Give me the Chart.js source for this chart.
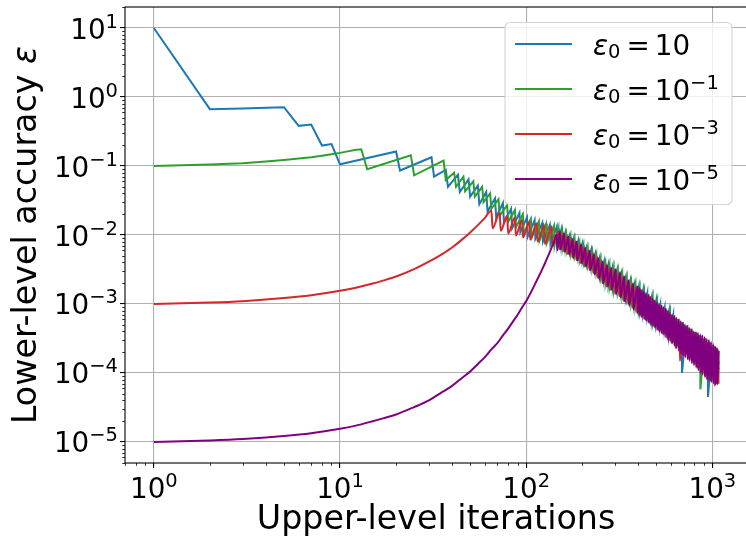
<!DOCTYPE html>
<html>
<head>
<meta charset="utf-8">
<script src="https://cdn.jsdelivr.net/npm/chart.js@4.4.0/dist/chart.umd.min.js"></script>
<style>
  html, body { margin: 0; padding: 0; background: #fff; overflow: hidden; }
  #wrap { width: 752px; height: 537px; }
</style>
</head>
<body>
<div id="wrap"><canvas id="accChart" width="752" height="537"></canvas></div>
<script>
// tick values and labels (10 to the power of the exponent)
const xTickValues = [1, 10, 100, 1000];
const xTickExponents = ['0', '1', '2', '3'];
const yTickValues = [1e-5, 1e-4, 1e-3, 1e-2, 1e-1, 1, 10];
const yTickExponents = ['−5', '−4', '−3', '−2', '−1', '0', '1'];

// series (iteration, accuracy)
const seriesNames = ['ε₀ = 10', 'ε₀ = 10⁻¹', 'ε₀ = 10⁻³', 'ε₀ = 10⁻⁵'];
const legendExponents = ['', '−1', '−3', '−5'];
const seriesColors = ['#1f77b4', '#2ca02c', '#d62728', '#800080'];

const eps10 = [[1,10],[2,0.667],[3,0.68],[4,0.70],[5,0.713],[6,0.382],[7,0.40],[8,0.198],[9,0.208],[10,0.106],
  [20,0.162],[21,0.086],[31,0.134],[32,0.070],[37,0.088],[38,0.050],[43,0.075],[44,0.042],[49,0.064],[50,0.036],
  [55,0.052],[56,0.028],[61,0.042],[62,0.022],[68,0.034],[69,0.018],[75,0.029],[76,0.015],[83,0.024],[84,0.0125],
  [92,0.021],[93,0.011],[101,0.018],[102,0.0095],[111,0.0165],[112,0.0088],[122,0.0150],[123,0.0080],[134,0.0140],[135,0.0074],
  [146,0.0132],[147,0.0068],[154,0.0116],[155,0.0068],[162,0.0106],[163,0.0063],[171,0.0097],[172,0.0057],[180,0.0089],[181,0.0052],
  [190,0.0081],[191,0.0047],[200,0.0074],[201,0.0042],[211,0.0066],[212,0.0038],[223,0.0060],[224,0.0034],[235,0.0053],[236,0.0030],
  [248,0.0047],[249,0.0025],[262,0.0041],[263,0.0022],[276,0.0037],[277,0.0019],[291,0.0034],[292,0.0017],[307,0.0030],[308,0.0016],
  [324,0.0027],[325,0.0014],[342,0.0024],[343,0.0012],[361,0.0021],[362,0.0011],[381,0.0019],[382,0.00095],[402,0.00175],[403,0.00082],
  [424,0.00155],[425,0.00072],[447,0.0014],[448,0.00065],[472,0.00124],[473,0.00057],[498,0.00109],[499,0.00051],[525,0.00097],[526,0.00046],
  [554,0.00087],[555,0.00041],[584,0.00077],[585,0.00034],[616,0.00068],[617,0.00029],[650,0.00060],[651,0.00025],[686,0.00054],[687,0.00010],
  [724,0.00048],[725,0.00019],[764,0.00043],[765,0.00017],[806,0.00039],[807,0.00014],[850,0.00035],[851,0.00012],[897,0.00031],[898,0.00011],
  [946,0.00028],[947,0.000045],[998,0.00025],[999,0.000080],[1053,0.00022],[1054,0.000075],[1080,0.00012]];

const eps1e1 = [[1,0.1],[2,0.105],[3,0.110],[4,0.116],[5,0.122],[6,0.128],[7,0.134],[8,0.141],[9,0.148],[10,0.155],
  [11,0.163],[12,0.171],[13,0.175],[14,0.0897],[24,0.1435],[25,0.0734],[36,0.1197],[37,0.0628],[41,0.080],[42,0.050],
  [46,0.070],[47,0.043],[52,0.060],[53,0.036],[58,0.050],[59,0.030],[64,0.040],[65,0.024],[71,0.033],[72,0.019],
  [79,0.027],[80,0.0155],[87,0.023],[88,0.013],[96,0.020],[97,0.0105],[106,0.0172],[107,0.0092],[117,0.0158],[118,0.0083],
  [128,0.0145],[129,0.0076],[141,0.0136],[142,0.0070],[149,0.0124],[150,0.0067],[156,0.0113],[157,0.0064],[164,0.0103],[165,0.0059],
  [173,0.0094],[174,0.0054],[182,0.0086],[183,0.0049],[193,0.0078],[194,0.0044],[203,0.0071],[204,0.0040],[214,0.0064],[215,0.0036],
  [226,0.0058],[227,0.0032],[238,0.0051],[239,0.0028],[251,0.0045],[252,0.0024],[266,0.0040],[267,0.0020],[280,0.0036],[281,0.0018],
  [295,0.0033],[296,0.0016],[311,0.0030],[312,0.0015],[328,0.0027],[329,0.0013],[347,0.0024],[348,0.0012],[366,0.0021],[367,0.00102],
  [386,0.0019],[387,0.00090],[407,0.0017],[408,0.00078],[430,0.00152],[431,0.00068],[453,0.00138],[454,0.00060],[478,0.00122],[479,0.00054],
  [505,0.00108],[506,0.00048],[532,0.00096],[533,0.00043],[561,0.00087],[562,0.00038],[592,0.00076],[593,0.00032],[624,0.00068],[625,0.00027],
  [659,0.00061],[660,0.00023],[695,0.00055],[696,0.00020],[734,0.00049],[735,0.00018],[774,0.00044],[775,0.00016],[817,0.00039],[818,0.00013],
  [861,0.00035],[862,0.000058],[909,0.00032],[910,0.00010],[959,0.00028],[960,0.000085],[1011,0.00025],[1012,0.000076],[1067,0.00022],[1068,0.000072],
  [1080,0.00015]];

const eps1e3 = [[1,1.0e-3],[2,1.05e-3],[3,1.1e-3],[5,1.22e-3],[7,1.34e-3],[10,1.55e-3],[12,1.71e-3],[15,1.98e-3],[17,2.18e-3],[20,2.5e-3],
  [25,3.2e-3],[30,4.1e-3],[35,5.2e-3],[40,6.6e-3],[45,8.5e-3],[50,0.0109],[55,0.0139],[60,0.0177],[65,0.0226],[66,0.0125],
  [72,0.021],[73,0.0115],[79,0.019],[80,0.0105],[87,0.018],[88,0.0098],[95,0.0165],[96,0.0092],[104,0.0155],[105,0.0086],
  [114,0.0148],[115,0.0080],[125,0.0140],[126,0.0074],[137,0.0134],[138,0.0069],[150,0.0114],[151,0.0062],[158,0.0106],[159,0.0058],
  [166,0.0097],[167,0.0053],[176,0.0088],[177,0.0047],[185,0.0081],[186,0.0043],[195,0.0073],[196,0.0039],[205,0.0067],[206,0.0035],
  [217,0.0060],[218,0.0031],[229,0.0054],[230,0.0028],[241,0.0048],[242,0.0024],[255,0.0042],[256,0.0020],[269,0.0037],[270,0.0018],
  [283,0.0034],[284,0.0016],[299,0.0031],[300,0.0014],[315,0.0028],[316,0.0013],[333,0.0025],[334,0.0011],[351,0.0022],[352,0.0010],
  [371,0.0019],[372,0.00088],[391,0.0018],[392,0.00076],[413,0.0016],[414,0.00066],[435,0.00142],[436,0.00059],[459,0.00128],[460,0.00053],
  [485,0.00113],[486,0.00047],[511,0.00099],[512,0.00042],[539,0.00089],[540,0.00037],[569,0.00079],[570,0.00032],[600,0.00070],[601,0.00027],
  [633,0.00062],[634,0.00023],[668,0.00055],[669,0.00015],[705,0.00050],[706,0.00018],[744,0.00044],[745,0.00016],[785,0.00040],[786,0.00014],
  [828,0.00036],[829,0.00012],[873,0.00033],[874,0.000105],[921,0.00030],[922,0.000088],[972,0.00027],[973,0.000078],[1025,0.00024],[1026,0.000066],
  [1078,0.00020],[1079,0.000070]];

const eps1e5 = [[1,1.0e-5],[2,1.05e-5],[3,1.1e-5],[5,1.22e-5],[7,1.34e-5],[10,1.55e-5],[12,1.71e-5],[15,2.0e-5],[17,2.2e-5],[20,2.5e-5],
  [25,3.2e-5],[30,4.0e-5],[35,5.2e-5],[40,6.5e-5],[45,8.4e-5],[50,1.05e-4],[55,1.35e-4],[60,1.7e-4],[65,2.2e-4],[70,2.7e-4],
  [75,3.5e-4],[80,4.4e-4],[85,5.6e-4],[90,7.0e-4],[95,8.9e-4],[100,1.1e-3],[105,1.4e-3],[110,1.8e-3],[115,2.3e-3],[120,2.9e-3],
  [125,3.7e-3],[130,4.7e-3],[135,6.0e-3],[140,7.6e-3],[146,0.0102],[147,0.0060],[152,0.0112],[153,0.0062],[160,0.0104],[161,0.0057],
  [169,0.0095],[170,0.0052],[178,0.0087],[179,0.0047],[187,0.0080],[188,0.0043],[198,0.0072],[199,0.0039],[208,0.0065],[209,0.0035],
  [220,0.0059],[221,0.0031],[232,0.0052],[233,0.0027],[245,0.0046],[246,0.0023],[258,0.0041],[259,0.0020],[273,0.0036],[274,0.0018],
  [287,0.0033],[288,0.0016],[303,0.0032],[304,0.0014],[320,0.0029],[321,0.00124],[337,0.0025],[338,0.0011],[356,0.0022],[357,0.00095],
  [376,0.0020],[377,0.00083],[397,0.0018],[398,0.00072],[407,0.0017],[408,0.00068],[418,0.0016],[419,0.00064],[429,0.00152],[430,0.00060],
  [441,0.00143],[442,0.00057],[453,0.00136],[454,0.00054],[465,0.00127],[466,0.00050],[478,0.00120],[479,0.00048],[491,0.00112],[492,0.00045],
  [504,0.00106],[505,0.00042],[518,0.00100],[519,0.00040],[532,0.00095],[533,0.00038],[547,0.00090],[548,0.00036],[562,0.00085],[563,0.00033],
  [577,0.00080],[578,0.00030],[592,0.00075],[593,0.00029],[608,0.00070],[609,0.00027],[624,0.00067],[625,0.00025],[641,0.00063],[642,0.00023],
  [659,0.00059],[660,0.00021],[677,0.00056],[678,0.00019],[695,0.00053],[696,0.00018],[714,0.00050],[715,0.00017],[734,0.00048],[735,0.00016],
  [754,0.00045],[755,0.00015],[774,0.00042],[775,0.00014],[795,0.00040],[796,0.00013],[817,0.00039],[818,0.00012],[839,0.00038],[840,0.00011],
  [862,0.00036],[863,0.00010],[885,0.00035],[886,0.000095],[909,0.00033],[910,0.000088],[934,0.00031],[935,0.000081],[959,0.00030],[960,0.000078],
  [985,0.00028],[986,0.000074],[1012,0.00026],[1013,0.000071],[1039,0.00024],[1040,0.000068],[1060,0.00023],[1061,0.000068],[1080,0.00021]];

const allSeries = [eps10, eps1e1, eps1e3, eps1e5];
const smoothSeries = [false, false, true, true];

const FONT = '"DejaVu Sans", sans-serif';
const BIG = 27.8, SMALL = 19.5, RAISE = 11;

// "10" with a superscript exponent, like matplotlib mathtext
function drawPow(ctx, exp, x, base, align) {
  ctx.font = BIG + 'px ' + FONT;
  const w1 = ctx.measureText('10').width;
  ctx.font = SMALL + 'px ' + FONT;
  const w2 = exp ? ctx.measureText(exp).width : 0;
  const w = w1 + w2;
  const sx = align === 'right' ? x - w : align === 'center' ? x - w / 2 : x;
  ctx.font = BIG + 'px ' + FONT;
  ctx.fillText('10', sx, base);
  if (exp) {
    ctx.font = SMALL + 'px ' + FONT;
    ctx.fillText(exp, sx + w1, base - RAISE);
  }
}

// spines, minor ticks, tick labels, y title and the legend
const decor = {
  id: 'decor',
  afterDatasetsDraw(chart) {
    const {ctx, chartArea: a, scales: {x, y}} = chart;
    ctx.save();
    ctx.strokeStyle = '#000';
    ctx.lineWidth = 0.8;
    ctx.beginPath();
    for (let d = -1; d <= 3; d++) {
      for (let m = 2; m <= 9; m++) {
        const v = m * Math.pow(10, d);
        if (v < x.min || v > x.max) continue;
        const px = Math.round(x.getPixelForValue(v)) + 0.5;
        ctx.moveTo(px, a.bottom);
        ctx.lineTo(px, a.bottom + 2.8);
      }
    }
    for (let d = -6; d <= 1; d++) {
      for (let m = 2; m <= 9; m++) {
        const v = m * Math.pow(10, d);
        if (v < y.min || v > y.max) continue;
        const py = Math.round(y.getPixelForValue(v)) + 0.5;
        ctx.moveTo(a.left, py);
        ctx.lineTo(a.left - 2.8, py);
      }
    }
    ctx.stroke();

    ctx.lineWidth = 1.1;
    ctx.strokeRect(a.left, a.top, a.right - a.left, a.bottom - a.top);

    // tick labels
    ctx.fillStyle = '#000';
    ctx.textBaseline = 'alphabetic';
    ctx.textAlign = 'left';
    xTickValues.forEach((v, i) => drawPow(ctx, xTickExponents[i], x.getPixelForValue(v), a.bottom + 35, 'center'));
    yTickValues.forEach((v, i) => drawPow(ctx, yTickExponents[i], a.left - 7, y.getPixelForValue(v) + 10.5, 'right'));

    // y axis title with italic epsilon
    const t1 = 'Lower-level accuracy ', t2 = 'ε';
    ctx.font = '33.3px ' + FONT;
    const w1 = ctx.measureText(t1).width;
    ctx.font = 'italic 33.3px ' + FONT;
    const w2 = ctx.measureText(t2).width;
    ctx.translate(36, (a.top + a.bottom) / 2 + (w1 + w2) / 2);
    ctx.rotate(-Math.PI / 2);
    ctx.font = '33.3px ' + FONT;
    ctx.fillText(t1, 0, 0);
    ctx.font = 'italic 33.3px ' + FONT;
    ctx.fillText(t2, w1, 0);
    ctx.setTransform(1, 0, 0, 1, 0, 0);

    // legend
    const bw = 227, bh = 182, r = 5;
    const bx = a.right - 15 - bw, by = a.top + 15.5;
    ctx.beginPath();
    ctx.moveTo(bx + r, by);
    ctx.arcTo(bx + bw, by, bx + bw, by + bh, r);
    ctx.arcTo(bx + bw, by + bh, bx, by + bh, r);
    ctx.arcTo(bx, by + bh, bx, by, r);
    ctx.arcTo(bx, by, bx + bw, by, r);
    ctx.closePath();
    ctx.fillStyle = 'rgba(255,255,255,0.8)';
    ctx.fill();
    ctx.strokeStyle = 'rgba(204,204,204,0.8)';
    ctx.lineWidth = 1.2;
    ctx.stroke();

    seriesNames.forEach((name, i) => {
      const ly = by + 21.5 + i * 45;
      ctx.strokeStyle = seriesColors[i];
      ctx.lineWidth = 2.1;
      ctx.beginPath();
      ctx.moveTo(bx + 10, ly);
      ctx.lineTo(bx + 67, ly);
      ctx.stroke();

      const base = ly + 10.7;
      let tx = bx + 88;
      ctx.fillStyle = '#000';
      ctx.font = 'italic ' + BIG + 'px ' + FONT;
      ctx.fillText('ε', tx, base);
      tx += ctx.measureText('ε').width;
      ctx.font = SMALL + 'px ' + FONT;
      ctx.fillText('0', tx, base + 3.5);
      tx += ctx.measureText('0').width + 6;
      ctx.font = BIG + 'px ' + FONT;
      ctx.fillText('=', tx, base);
      tx += ctx.measureText('=').width + 5;
      drawPow(ctx, legendExponents[i], tx, base, 'left');
    });
    ctx.restore();
  }
};

new Chart(document.getElementById('accChart').getContext('2d'), {
  type: 'line',
  data: {
    datasets: allSeries.map((s, i) => ({
      label: seriesNames[i],
      data: s.map(p => ({x: p[0], y: p[1]})),
      borderColor: seriesColors[i],
      backgroundColor: seriesColors[i],
      borderWidth: 2,
      pointRadius: 0,
      cubicInterpolationMode: smoothSeries[i] ? 'monotone' : 'default',
      tension: 0,
      fill: false,
      order: allSeries.length - i   // later series drawn on top, as in the original
    }))
  },
  options: {
    responsive: false,
    animation: false,
    layout: { padding: { top: 7, right: 5, bottom: 0, left: 0 } },
    plugins: { legend: { display: false }, tooltip: { enabled: false } },
    scales: {
      x: {
        type: 'logarithmic',
        min: Math.pow(10, -0.152),
        max: Math.pow(10, 3.186),
        afterBuildTicks: s => { s.ticks = xTickValues.map(v => ({value: v})); },
        afterFit: s => { s.height = 74; s.paddingLeft = 0; s.paddingRight = 0; },
        border: { display: false },
        grid: { color: '#b0b0b0', lineWidth: 1.1, tickLength: 5, tickColor: '#000', tickWidth: 1.1 },
        ticks: { display: false },
        title: {
          display: true, text: 'Upper-level iterations', color: '#000',
          font: { family: FONT, size: 33.3, lineHeight: 1.0 }, padding: { top: 0, bottom: 0 }
        }
      },
      y: {
        type: 'logarithmic',
        min: Math.pow(10, -5.305),
        max: Math.pow(10, 1.305),
        afterBuildTicks: s => { s.ticks = yTickValues.map(v => ({value: v})); },
        afterFit: s => { s.width = 125; s.paddingTop = 0; s.paddingBottom = 0; },
        border: { display: false },
        grid: { color: '#b0b0b0', lineWidth: 1.1, tickLength: 5, tickColor: '#000', tickWidth: 1.1 },
        ticks: { display: false }
      }
    }
  },
  plugins: [decor]
});
</script>
</body>
</html>
